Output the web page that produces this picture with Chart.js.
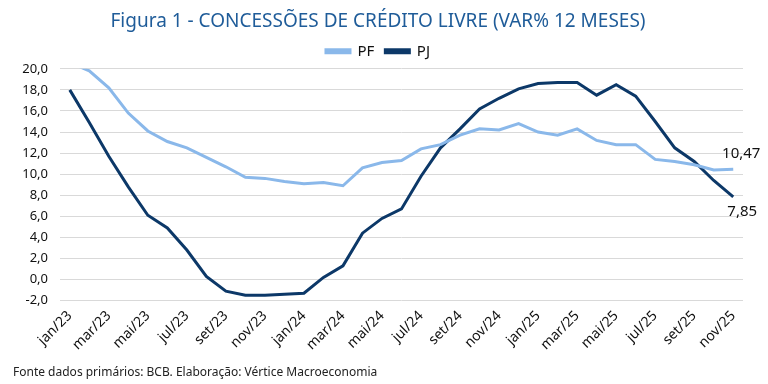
<!DOCTYPE html>
<html>
<head>
<meta charset="utf-8">
<script src="https://cdn.jsdelivr.net/npm/chart.js@4"></script>
<style>
    html, body { margin: 0; padding: 0; background: #fff; }
    #wrap { width: 768px; height: 384px; }
</style>
</head>
<body>
<div id="wrap"><canvas id="CreditoChart"></canvas></div>
<script>
const months = [
    "jan/23", "fev/23", "mar/23", "abr/23", "mai/23", "jun/23", "jul/23", "ago/23", "set/23", "out/23", "nov/23", "dez/23",
    "jan/24", "fev/24", "mar/24", "abr/24", "mai/24", "jun/24", "jul/24", "ago/24", "set/24", "out/24", "nov/24", "dez/24",
    "jan/25", "fev/25", "mar/25", "abr/25", "mai/25", "jun/25", "jul/25", "ago/25", "set/25", "out/25", "nov/25"
];

const pf = [
    20.6, 19.8, 18.2, 15.8, 14.1, 13.1, 12.5, 11.6, 10.7, 9.7, 9.6, 9.3,
    9.1, 9.2, 8.9, 10.6, 11.1, 11.3, 12.4, 12.8, 13.7, 14.3, 14.2, 14.8,
    14.0, 13.7, 14.3, 13.2, 12.8, 12.8, 11.4, 11.2, 10.9, 10.4, 10.47
];

const pj = [
    18.0, 14.9, 11.7, 8.8, 6.1, 4.9, 2.8, 0.3, -1.1, -1.5, -1.5, -1.4,
    -1.3, 0.2, 1.3, 4.4, 5.8, 6.7, 9.8, 12.5, 14.3, 16.2, 17.2, 18.1,
    18.6, 18.7, 18.7, 17.5, 18.5, 17.4, 15.0, 12.5, 11.2, 9.4, 7.85
];

const yTicks = { min: -2, max: 20, step: 2 };

const fmt = (v, d) => v.toFixed(d).replace(".", ",");

// writes the last value of each series beside its line
const lastLabels = {
    id: "lastLabels",
    afterDatasetsDraw(chart) {
        const ctx = chart.ctx;
        ctx.save();
        ctx.font = "15px 'Noto Sans'";
        ctx.fillStyle = "#111";
        ctx.textAlign = "center";
        chart.data.datasets.forEach((ds, i) => {
            const meta = chart.getDatasetMeta(i);
            const pt = meta.data[meta.data.length - 1];
            const v = ds.data[ds.data.length - 1];
            if (i === 0) {
                ctx.textBaseline = "bottom";
                ctx.fillText(fmt(v, 2), pt.x + 8, pt.y - 8);
            } else {
                ctx.textBaseline = "top";
                ctx.fillText(fmt(v, 2), pt.x + 9, pt.y + 7);
            }
        });
        ctx.restore();
    }
};

const ctx = document.getElementById("CreditoChart");

new Chart(ctx, {
    type: "line",
    data: {
        labels: months,
        datasets: [
            {
                label: "PF",
                data: pf,
                borderColor: "#8ab8ea",
                backgroundColor: "#8ab8ea",
                borderWidth: 3,
                pointRadius: 0,
                tension: 0,
            },
            {
                label: "PJ",
                data: pj,
                borderColor: "#0c3868",
                backgroundColor: "#0c3868",
                borderWidth: 3,
                pointRadius: 0,
                tension: 0,
            },
        ],
    },
    options: {
        responsive: true,
        maintainAspectRatio: false,
        animation: false,
        layout: {
            padding: { left: 13, right: 25, top: 6, bottom: 2 },
        },
        scales: {
            x: {
                offset: true,
                grid: { display: false, drawTicks: false },
                border: { display: false },
                ticks: {
                    autoSkip: false,
                    maxRotation: 45,
                    minRotation: 45,
                    padding: 7,
                    color: "#111",
                    font: { family: "'Noto Sans'", size: 14 },
                    callback: function (val, i) {
                        return i % 2 === 0 ? this.getLabelForValue(val) : "";
                    },
                },
                afterFit: (scale) => { scale.height = 61; },
            },
            y: {
                min: yTicks.min,
                max: yTicks.max,
                ticks: {
                    stepSize: yTicks.step,
                    padding: 12,
                    color: "#111",
                    font: { family: "'Noto Sans'", size: 13 },
                    callback: (v) => fmt(v, 1),
                },
                grid: { color: "#d9d9d9", lineWidth: 1, drawTicks: false },
                border: { display: false },
                afterFit: (scale) => { scale.width = 47; },
            },
        },
        plugins: {
            title: {
                display: true,
                text: "Figura 1 - CONCESSÕES DE CRÉDITO LIVRE (VAR% 12 MESES)",
                color: "#1f5c99",
                font: { family: "'Noto Sans'", size: 19, weight: "normal" },
                padding: { top: 4, bottom: 0 },
            },
            legend: {
                display: true,
                labels: {
                    boxWidth: 24,
                    boxHeight: 3,
                    padding: 11,
                    color: "#111",
                    font: { family: "'Noto Sans'", size: 15 },
                },
            },
            subtitle: {
                display: true,
                position: "bottom",
                align: "start",
                text: "Fonte dados primários: BCB. Elaboração: Vértice Macroeconomia",
                color: "#222",
                font: { family: "'Noto Sans'", size: 12 },
                padding: { top: 4, bottom: 2 },
            },
            tooltip: { enabled: false },
        },
    },
    plugins: [lastLabels],
});
</script>
</body>
</html>
